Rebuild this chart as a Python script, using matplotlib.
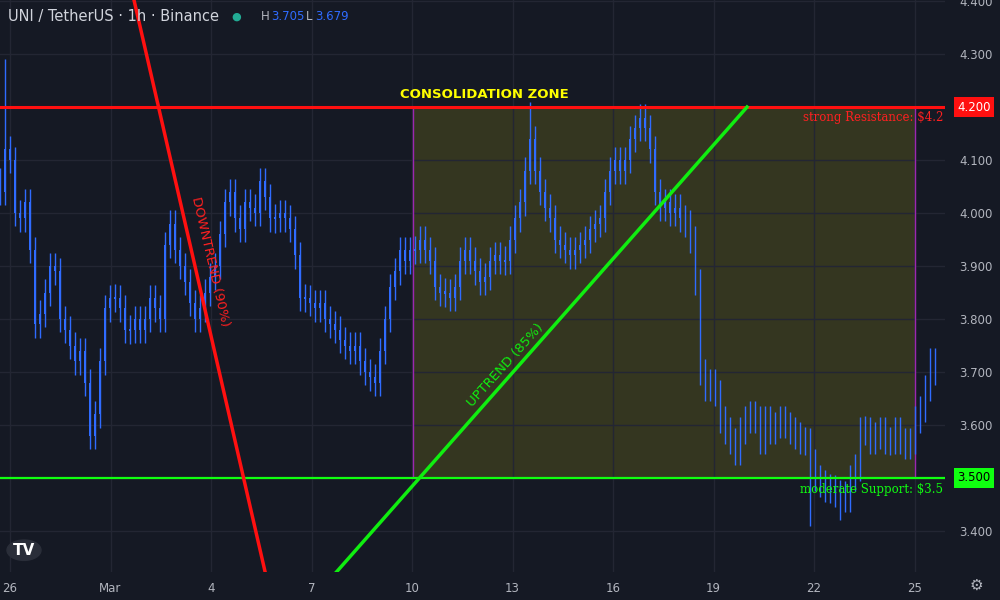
import matplotlib
matplotlib.use("Agg")
import matplotlib.pyplot as plt
import matplotlib.dates as mdates
import numpy as np
from datetime import datetime, timedelta

closes = [4.04,4.12,4.10,4.00,3.99,4.02,3.93,3.79,3.81,3.85,3.90,3.89,3.80,3.78,3.75,3.72,3.74,3.68,3.58,3.62,
3.72,3.82,3.84,3.84,3.82,3.78,3.78,3.80,3.78,3.80,3.84,3.82,3.80,3.94,3.98,3.93,3.90,3.87,3.83,3.80,
3.82,3.85,3.88,3.90,3.96,4.02,4.04,3.99,3.97,4.02,4.01,4.00,4.06,4.03,3.99,3.99,4.00,3.99,3.97,3.92,
3.84,3.84,3.83,3.82,3.83,3.80,3.79,3.78,3.76,3.75,3.74,3.75,3.72,3.70,3.69,3.68,3.74,3.80,3.86,3.89,
3.93,3.91,3.93,3.93,3.95,3.93,3.91,3.86,3.85,3.85,3.84,3.86,3.91,3.93,3.91,3.89,3.87,3.88,3.91,3.92,
3.91,3.91,3.95,3.99,4.02,4.08,4.14,4.08,4.04,4.01,3.99,3.95,3.94,3.93,3.92,3.93,3.94,3.95,3.97,3.98,
3.99,4.04,4.08,4.10,4.08,4.10,4.14,4.16,4.18,4.16,4.12,4.04,4.01,4.02,4.00,4.01,3.99,3.98,3.95,3.87,
3.70,3.67,3.68,3.66,3.61,3.59,3.57,3.55,3.59,3.61,3.62,3.61,3.57,3.61,3.59,3.60,3.61,3.60,3.59,3.58,
3.57,3.57,3.53,3.50,3.49,3.48,3.48,3.47,3.47,3.46,3.50,3.52,3.59,3.59,3.57,3.58,3.59,3.57,3.57,3.59,
3.57,3.56,3.57,3.61,3.63,3.67,3.72,3.70]
spikes = {1: 4.29, 106: 4.21, 162: 3.41, 168: 3.42}

resistance = 4.2
support = 3.5
tick_dates = ["2025-02-26","2025-03-01","2025-03-04","2025-03-07","2025-03-10","2025-03-13",
              "2025-03-16","2025-03-19","2025-03-22","2025-03-25"]
tick_labels = ["26","Mar","4","7","10","13","16","19","22","25"]
downtrend = [("2025-03-01 17:00", 4.40), ("2025-03-05 15:00", 3.32)]
uptrend = [("2025-03-07 17:00", 3.32), ("2025-03-20 00:00", 4.20)]
zone = ("2025-03-10 00:40", "2025-03-25 00:00")

BG = "#151924"
GRID = "#232633"
TXT = "#b2b5be"
BLUE = "#2f6bff"

start = datetime(2025, 2, 25, 16, 50)
step = timedelta(minutes=215)
times = [start + i * step for i in range(len(closes))]
tn = mdates.date2num(times)
opens = [closes[0] + 0.02] + closes[:-1]

fig = plt.figure(figsize=(10, 6), dpi=100, facecolor=BG)
ax = fig.add_axes([0, 28/600, 945/1000, 572/600])
ax.set_facecolor(BG)

w = 215 / 1440 * 0.3
for i, (t, o, c) in enumerate(zip(tn, opens, closes)):
    lo, hi = min(o, c), max(o, c)
    if hi - lo < 0.004:
        hi += 0.002; lo -= 0.002
    whi, wlo = hi + 0.025, lo - 0.025
    if i in spikes:
        if spikes[i] > hi: whi = spikes[i]
        else: wlo = spikes[i]
    ax.vlines(t, wlo, whi, color=BLUE, lw=1.0, zorder=3)
    ax.bar(t, hi - lo, bottom=lo, width=w, color=BLUE, zorder=3, linewidth=0)

x0 = mdates.date2num(datetime(2025, 2, 26)) - 10 * 0.7164 / 24
x1 = mdates.date2num(datetime(2025, 2, 26)) + 935 * 0.7164 / 24
ax.set_xlim(x0, x1)
ax.set_ylim(3.3226, 4.402)

zs, ze = [mdates.date2num(datetime.fromisoformat(z)) for z in zone]
ax.fill_between([zs, ze], support, resistance, color="#4a4a1e", alpha=0.6, zorder=1, linewidth=0)
ax.vlines([zs, ze], support, resistance, color="#9c27b0", lw=1, zorder=2)

ax.axhline(resistance, color="#ff1010", lw=2.2, zorder=4)
ax.axhline(support, color="#10ff10", lw=1.6, zorder=4)
dx = [mdates.date2num(datetime.fromisoformat(p[0])) for p in downtrend]
ax.plot(dx, [p[1] for p in downtrend], color="#ff1010", lw=2.5, zorder=5)
ux = [mdates.date2num(datetime.fromisoformat(p[0])) for p in uptrend]
ax.plot(ux, [p[1] for p in uptrend], color="#10ee10", lw=2.5, zorder=5)

def px(x, y):
    return (x / 945, 1 - y / 572)

ax.text(*px(484, 95), "CONSOLIDATION ZONE", transform=ax.transAxes, color="#ffff00",
        fontsize=9.5, fontweight="bold", ha="center", va="center", zorder=6)
ax.text(*px(943, 117), "strong Resistance: $4.2", transform=ax.transAxes, color="#ff2020",
        fontsize=8.5, ha="right", va="center", family="DejaVu Serif", zorder=6)
ax.text(*px(943, 489), "moderate Support: $3.5", transform=ax.transAxes, color="#10ff10",
        fontsize=8.5, ha="right", va="center", family="DejaVu Serif", zorder=6)
ax.text(*px(210, 262), "DOWNTREND (90%)", transform=ax.transAxes, color="#ff2020",
        fontsize=9.5, rotation=-77, ha="center", va="center", zorder=6)
ax.text(*px(505, 365), "UPTREND (85%)", transform=ax.transAxes, color="#10ee10",
        fontsize=9.5, rotation=48, ha="center", va="center", zorder=6)

ax.set_xticks([mdates.date2num(datetime.fromisoformat(d)) for d in tick_dates])
ax.set_xticklabels(tick_labels)
yt = np.round(np.arange(3.4, 4.41, 0.1), 1)
ax.set_yticks(yt)
ax.set_yticklabels([f"{v:.3f}" for v in yt])
ax.yaxis.tick_right()
ax.tick_params(axis="both", colors=TXT, labelsize=8.5, length=0, pad=10)
ax.tick_params(axis="x", pad=7)
ax.grid(True, color=GRID, lw=1, zorder=0)
for s in ax.spines.values():
    s.set_visible(False)

for v, fc, tc in [(resistance, "#ff1010", "white"), (support, "#10ff10", "black")]:
    ax.text(1.013, (v - 3.3226) / (4.402 - 3.3226), f"{v:.3f}", transform=ax.transAxes,
            color=tc, fontsize=8.5, ha="left", va="center", zorder=7,
            bbox=dict(boxstyle="square,pad=0.3", fc=fc, ec="none"))

fig.text(0.008, 0.972, "UNI / TetherUS · 1h · Binance", color="#d1d4dc", fontsize=10.5, va="center")
fig.text(0.236, 0.972, "●", color="#22ab94", fontsize=8, va="center", ha="center")
fig.text(0.261, 0.972, "H", color=TXT, fontsize=8.5, va="center")
fig.text(0.271, 0.972, "3.705", color=BLUE, fontsize=8.5, va="center")
fig.text(0.306, 0.972, "L", color=TXT, fontsize=8.5, va="center")
fig.text(0.315, 0.972, "3.679", color=BLUE, fontsize=8.5, va="center")
fig.text(0.024, 0.083, "TV", color="white", fontsize=11, fontweight="bold", va="center", ha="center")
fig.patches.append(plt.Circle((0.024, 0.083), 0.017, transform=fig.transFigure, color="#2a2e39", zorder=0))
fig.text(0.976, 0.025, "⚙", color=TXT, fontsize=11, va="center", ha="center")

fig.savefig("out.png", dpi=100, facecolor=BG)
